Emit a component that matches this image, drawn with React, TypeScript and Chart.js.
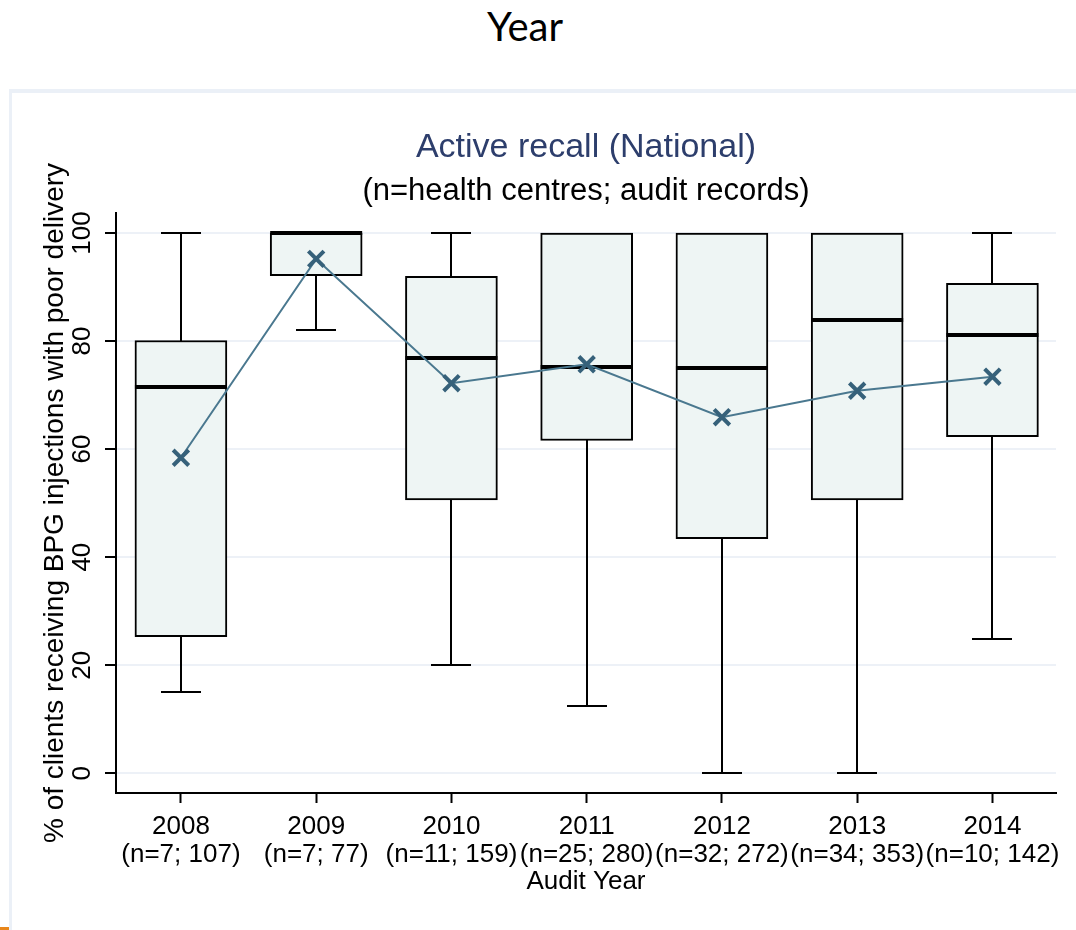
import React, { useEffect, useRef } from "react";
import { Chart, registerables } from "chart.js";

Chart.register(...registerables);
Chart.defaults.font.family = "'Liberation Sans', Arial, sans-serif";
Chart.defaults.color = "#000";

// ---- data ----
const years = [2008, 2009, 2010, 2011, 2012, 2013, 2014];
const sampleLabels = ["(n=7; 107)", "(n=7; 77)", "(n=11; 159)", "(n=25; 280)", "(n=32; 272)", "(n=34; 353)", "(n=10; 142)"];
const whiskerLow = [15, 82, 20, 12.4, 0, 0, 24.9];
const q1 = [25.3, 92.1, 50.6, 61.6, 43.4, 50.6, 62.3];
const median = [71.5, 100, 76.8, 75.2, 75.0, 83.9, 81.2];
const q3 = [80.1, 100, 92.0, 100, 100, 100, 90.7];
const whiskerHigh = [100, 100, 100, 100, 100, 100, 100];
const means = [58.4, 95.2, 72.2, 75.7, 65.9, 70.8, 73.4];
const yTicks = [0, 20, 40, 60, 80, 100];

const BOX_W = 92;
const CAP_HALF = 20;

const boxPlugin = {
  id: "boxWhiskers",
  beforeDatasetsDraw(chart: any) {
    const { ctx, scales } = chart;
    const x = scales.x;
    const y = scales.y;
    ctx.save();
    ctx.strokeStyle = "#000";
    ctx.lineWidth = 2;
    years.forEach((yr, i) => {
      const px = Math.round(x.getPixelForValue(yr));
      const draw = (from: number, to: number) => {
        const a = Math.round(y.getPixelForValue(from));
        const b = Math.round(y.getPixelForValue(to));
        ctx.beginPath();
        ctx.moveTo(px, a);
        ctx.lineTo(px, b);
        ctx.moveTo(px - CAP_HALF, b);
        ctx.lineTo(px + CAP_HALF, b);
        ctx.stroke();
      };
      if (whiskerHigh[i] > q3[i]) draw(q3[i], whiskerHigh[i]);
      if (whiskerLow[i] < q1[i]) draw(q1[i], whiskerLow[i]);
    });
    ctx.restore();
  },
  afterDatasetDraw(chart: any, args: any) {
    if (args.index !== 0) return;
    const { ctx, scales } = chart;
    const x = scales.x;
    const y = scales.y;
    ctx.save();
    ctx.strokeStyle = "#000";
    ctx.lineWidth = 4;
    years.forEach((yr, i) => {
      const px = x.getPixelForValue(yr);
      const py = Math.round(y.getPixelForValue(median[i]));
      ctx.beginPath();
      ctx.moveTo(px - BOX_W / 2, py);
      ctx.lineTo(px + BOX_W / 2, py);
      ctx.stroke();
    });
    ctx.restore();
  },
};

export default function App() {
  const ref = useRef<HTMLCanvasElement>(null);

  useEffect(() => {
    const canvas = ref.current!;
    const chart = new Chart(canvas, {
      type: "bar",
      data: {
        datasets: [
          {
            type: "bar",
            data: years.map((yr, i) => ({ x: yr, y: [q1[i], q3[i]] })) as any,
            backgroundColor: "#eef5f4",
            borderColor: "#000",
            borderWidth: 2,
            borderSkipped: false,
            barThickness: BOX_W,
            order: 1,
          },
          {
            type: "line",
            data: years.map((yr, i) => ({ x: yr, y: means[i] })) as any,
            borderColor: "#4a788f",
            borderWidth: 2,
            tension: 0,
            pointStyle: "crossRot",
            pointRadius: 11,
            pointBorderWidth: 4,
            pointBorderColor: "#36617a",
            pointBackgroundColor: "#36617a",
            order: 0,
          } as any,
        ],
      },
      options: {
        responsive: false,
        animation: false,
        devicePixelRatio: 1,
        layout: { padding: { top: 0, right: 20, bottom: 0, left: 0 } },
        plugins: {
          legend: { display: false },
          tooltip: { enabled: false },
          title: {
            display: true,
            text: "Active recall (National)",
            color: "#2d3e6c",
            fullSize: false,
            font: { size: 34, weight: "normal", lineHeight: 1.2 },
            padding: { top: 127, bottom: 0 },
          },
          subtitle: {
            display: true,
            text: "(n=health centres; audit records)",
            color: "#000",
            fullSize: false,
            font: { size: 31, weight: "normal", lineHeight: 1.2 },
            padding: { top: 5, bottom: 3 },
          },
        },
        scales: {
          x: {
            type: "linear",
            min: 2007.52,
            max: 2014.47,
            offset: false,
            afterBuildTicks: (s: any) => {
              s.ticks = years.map((v) => ({ value: v }));
            },
            afterFit: (s: any) => {
              s.height = 137;
            },
            grid: {
              offset: false,
              drawOnChartArea: false,
              drawTicks: true,
              tickLength: 10,
              tickColor: "#000",
              tickWidth: 2,
            },
            border: { display: true, color: "#000", width: 2 },
            ticks: {
              autoSkip: false,
              maxRotation: 0,
              minRotation: 0,
              padding: 10,
              color: "#000",
              font: { size: 26, lineHeight: "28px" as any },
              callback: (value: any) => {
                const i = years.indexOf(Number(value));
                return i < 0 ? "" : [String(years[i]), sampleLabels[i]];
              },
            },
            title: {
              display: true,
              text: "Audit Year",
              color: "#000",
              font: { size: 26, lineHeight: 1.2 },
              padding: { top: 0, bottom: 32.4 },
            },
          },
          y: {
            type: "linear",
            min: -3.65,
            max: 103.7,
            afterBuildTicks: (s: any) => {
              s.ticks = yTicks.map((v) => ({ value: v }));
            },
            afterFit: (s: any) => {
              s.width = 116;
            },
            grid: {
              color: "#edf1f7",
              lineWidth: 2,
              drawTicks: true,
              tickLength: 11,
              tickColor: "#000",
              tickWidth: 2,
            },
            border: { display: true, color: "#000", width: 2 },
            ticks: {
              minRotation: 90,
              maxRotation: 90,
              crossAlign: "center",
              padding: 0,
              color: "#000",
              font: { size: 26 },
            },
            title: {
              display: true,
              text: "% of clients receiving BPG injections with poor delivery",
              color: "#000",
              font: { size: 28, lineHeight: 1.2 },
              padding: { top: 38, bottom: 0 },
            },
          },
        },
      } as any,
      plugins: [boxPlugin],
    });
    return () => chart.destroy();
  }, []);

  return (
    <div
      style={{
        position: "absolute",
        left: 0,
        top: 0,
        width: 1076,
        height: 930,
        background: "#fff",
        overflow: "hidden",
      }}
    >
      <div
        style={{
          position: "absolute",
          left: 0,
          top: 6,
          width: 1050,
          textAlign: "center",
          fontFamily: "Lato, 'Open Sans', sans-serif",
          fontSize: 40,
          lineHeight: "40px",
          color: "#000",
        }}
      >
        Year
      </div>
      <div
        style={{
          position: "absolute",
          left: 9,
          top: 89,
          width: 1100,
          height: 900,
          borderTop: "4px solid #ebf0f7",
          borderLeft: "3px solid #ebf0f7",
          background: "#fff",
        }}
      />
      <div
        style={{
          position: "absolute",
          left: 0,
          top: 927,
          width: 9,
          height: 3,
          background: "#e8861a",
        }}
      />
      <canvas
        ref={ref}
        width={1076}
        height={930}
        style={{ position: "absolute", left: 0, top: 0, width: 1076, height: 930 }}
      />
    </div>
  );
}
